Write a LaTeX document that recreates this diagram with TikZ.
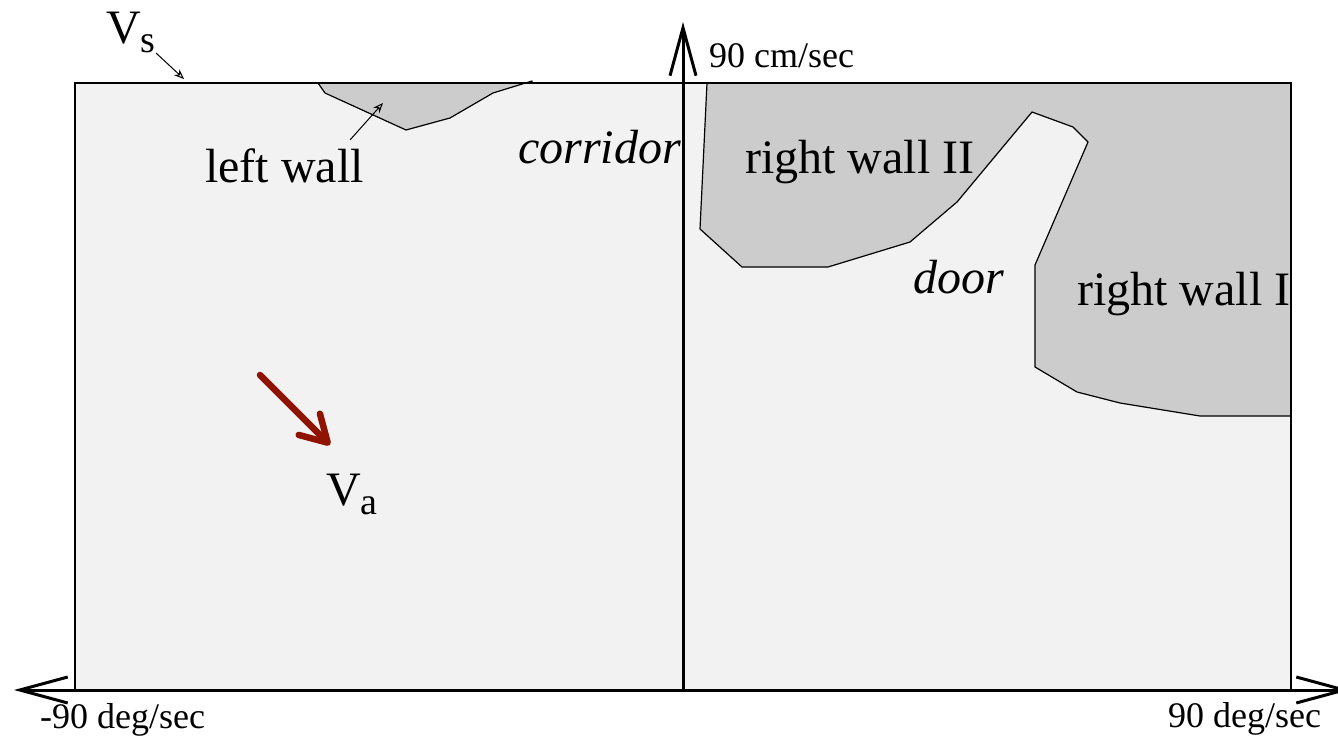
\documentclass[tikz,border=0pt]{standalone}
\usepackage{fontspec}
\setmainfont{Liberation Serif}
\usetikzlibrary{arrows.meta}
\definecolor{bgfill}{HTML}{F2F2F2}
\definecolor{wallfill}{HTML}{CCCCCC}
\definecolor{arrred}{HTML}{8E1300}
\tikzset{
  big/.style={font=\fontsize{48}{52}\selectfont, inner sep=0pt, anchor=base west},
  small/.style={font=\fontsize{36}{40}\selectfont, inner sep=0pt, anchor=base west},
  axis/.style={line width=3pt, -{Straight Barb[length=48pt,width=26pt,line width=3pt]}},
  wall/.style={fill=wallfill, draw=black, line width=1.2pt, line join=round},
  pointer/.style={line width=1pt, -{Stealth[open,length=10pt,width=8pt]}},
  motion/.style={draw=arrred, line width=6.5pt, line cap=round,
    -{Straight Barb[length=26pt,width=30pt,line width=6.5pt,round]}},
}
\newcommand\mysub[1]{\raisebox{-0.2em}{\fontsize{38}{38}\selectfont #1}}
\begin{document}
\begin{tikzpicture}[x=1pt,y=-1pt]
\useasboundingbox (0,0) rectangle (1338,736);
% field
\draw[fill=bgfill, line width=1.3pt] (75,83) rectangle (1291,690);
% left wall
\path[wall] (318,83) -- (325,93) -- (406,130) -- (450,118) -- (493,93) -- (532,81) -- (532,83) -- cycle;
% right walls
\begin{scope}
\clip (75,83) rectangle (1291,690);
\path[wall] (707,83) -- (700,229) -- (742,267) -- (828,267) -- (910,242) -- (957,202)
  -- (1032,112) -- (1073,127) -- (1088,142) -- (1035,265) -- (1035,367) -- (1077,392)
  -- (1120,403) -- (1200,416) -- (1291,416) -- (1291,83) -- cycle;
\node[big] (rw1) at (1077,305) {right wall I};
\end{scope}
\draw[line width=1.3pt] (75,83) -- (1291,83) -- (1291,690);
% labels
\node[big] (lw) at (205,182) {left wall};
\node[big] (cor) at (518,163) {\itshape corridor};
\node[big] (rw2) at (745,173) {right wall II};
\node[big] (door) at (913,293) {\itshape door};
\node[big] (vs) at (106,43) {V\mysub{s}};
\node[big] (va) at (326,505) {V\mysub{a}};
\node[small] (ylab) at (709,67) {90 cm/sec};
\node[small] (xneg) at (40,728) {-90 deg/sec};
\node[small] (xpos) at (1168,727) {90 deg/sec};
% pointers
\coordinate (vsend) at (184,79);
\coordinate (vsstart) at (156,53);
\draw[pointer] (vsstart) -- (vsend);
\coordinate (lwstart) at (350,140);
\coordinate (lwend) at (383,103);
\draw[pointer] (lwstart) -- (lwend);
% axes
\coordinate (orig) at (683,690);
\coordinate (ytip) at (683,22);
\coordinate (xl) at (14,690);
\coordinate (xr) at (1350,690);
\draw[axis] (orig) -- (ytip);
\draw[axis] (orig) -- (xl);
\draw[axis] (orig) -- (xr);
% motion arrow
\coordinate (ma) at (260,375);
\coordinate (mb) at (330,445);
\draw[motion] (ma) -- (mb);
\end{tikzpicture}
\end{document}
